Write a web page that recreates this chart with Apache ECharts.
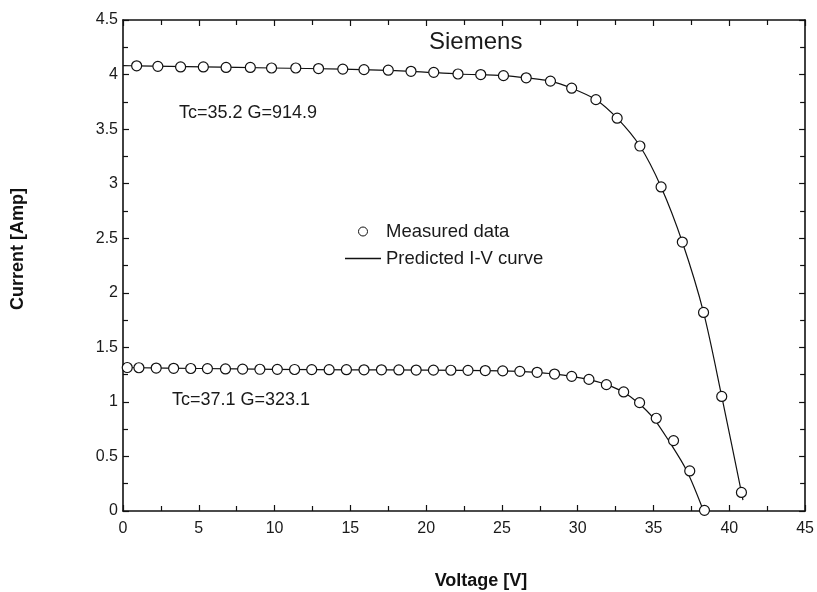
<!DOCTYPE html>
<html lang="en">
<head>
  <meta charset="UTF-8">
  <title>Siemens I-V</title>
  <script src="https://cdn.jsdelivr.net/npm/echarts@6/dist/echarts.min.js"></script>
</head>
<body style="margin:0">
  <div id="chart" style="width: 817px;height: 592px;"></div>
  <script>
    const FONT = '"Liberation Sans", Arial, sans-serif'

    // upper curve: Tc=35.2 G=914.9
    const vMeasHigh = [0.9, 2.3, 3.8, 5.3, 6.8, 8.4, 9.8, 11.4, 12.9, 14.5, 15.9, 17.5, 19.0, 20.5, 22.1, 23.6, 25.1, 26.6, 28.2, 29.6, 31.2, 32.6, 34.1, 35.5, 36.9, 38.3, 39.5, 40.8]
    const iMeasHigh = [4.08, 4.075, 4.07, 4.07, 4.065, 4.065, 4.06, 4.06, 4.055, 4.05, 4.045, 4.04, 4.03, 4.02, 4.005, 4.0, 3.99, 3.97, 3.94, 3.875, 3.77, 3.6, 3.345, 2.97, 2.465, 1.82, 1.05, 0.17]
    const vPredHigh = [0, 0.9, 5.3, 9.8, 14.5, 19.0, 22.1, 25.1, 26.6, 28.2, 29.6, 31.2, 32.6, 34.1, 35.5, 36.9, 38.3, 39.5, 40.8, 40.9]
    const iPredHigh = [4.082, 4.08, 4.07, 4.06, 4.05, 4.03, 4.005, 3.99, 3.97, 3.94, 3.875, 3.77, 3.6, 3.345, 2.97, 2.465, 1.82, 1.05, 0.17, 0.1]

    // lower curve: Tc=37.1 G=323.1
    const vMeasLow = [0.28, 1.05, 2.19, 3.34, 4.47, 5.57, 6.76, 7.89, 9.03, 10.18, 11.32, 12.45, 13.6, 14.74, 15.9, 17.05, 18.2, 19.34, 20.48, 21.63, 22.76, 23.9, 25.05, 26.18, 27.32, 28.47, 29.6, 30.74, 31.89, 33.03, 34.08, 35.18, 36.32, 37.39, 38.36]
    const iMeasLow = [1.315, 1.313, 1.31, 1.308, 1.306, 1.305, 1.302, 1.3, 1.299, 1.298, 1.297, 1.296, 1.295, 1.295, 1.294, 1.294, 1.293, 1.292, 1.291, 1.29, 1.289, 1.287, 1.284, 1.28, 1.271, 1.255, 1.234, 1.206, 1.158, 1.091, 0.993, 0.85, 0.645, 0.367, 0.006]
    const vPredLow = [0, 5, 10, 15, 20, 25, 27.3, 28.5, 29.6, 30.7, 31.9, 33.0, 34.0, 35.0, 36.0, 37.2, 38.3]
    const iPredLow = [1.315, 1.306, 1.298, 1.294, 1.291, 1.284, 1.271, 1.255, 1.234, 1.206, 1.158, 1.09, 0.99, 0.85, 0.645, 0.367, 0.0]

    const pair = (xs, ys) => xs.map((x, i) => [x, ys[i]])

    const tickStyle = { lineStyle: { color: '#111', width: 1.2 } }
    const baseAxis = {
      axisLine: { onZero: false, lineStyle: { color: '#111', width: 1.6 } },
      axisTick: { inside: true, length: 6, ...tickStyle },
      minorTick: { show: true, splitNumber: 2, length: 5, ...tickStyle },
      splitLine: { show: false },
      axisLabel: { color: '#1a1a1a', fontSize: 16, fontFamily: FONT }
    }

    const lineSeries = (name, data) => ({
      type: 'line', name, data, symbol: 'none', smooth: 0.3, z: 2,
      lineStyle: { color: '#111', width: 1.2 }, itemStyle: { color: '#111' }
    })
    const dotSeries = (name, data) => ({
      type: 'scatter', name, data, symbol: 'circle', symbolSize: 10, z: 3,
      itemStyle: { color: '#fff', borderColor: '#111', borderWidth: 1.2, opacity: 1 }
    })

    const legendText = { fontSize: 18.5, fontFamily: FONT, color: '#1a1a1a' }

    const chart = echarts.init(document.getElementById('chart'))
    chart.setOption({
      animation: false,
      grid: { left: 123, right: 10, top: 20, bottom: 81 },
      xAxis: [
        { ...baseAxis, type: 'value', min: 0, max: 45, interval: 5, position: 'bottom', axisLabel: { ...baseAxis.axisLabel, margin: 10 } },
        { ...baseAxis, type: 'value', min: 0, max: 45, interval: 5, position: 'top', axisLabel: { show: false } }
      ],
      yAxis: [
        { ...baseAxis, type: 'value', min: 0, max: 4.5, interval: 0.5, position: 'left', axisLabel: { ...baseAxis.axisLabel, margin: 5 } },
        { ...baseAxis, type: 'value', min: 0, max: 4.5, interval: 0.5, position: 'right', axisLabel: { show: false } }
      ],
      legend: [
        {
          data: [{ name: 'Measured data', icon: 'circle', itemStyle: { color: '#fff', borderColor: '#111', borderWidth: 1 } }],
          left: 358, top: 222, padding: 0, itemWidth: 36, itemHeight: 9, symbolKeepAspect: true,
          selectedMode: false, textStyle: legendText
        },
        {
          data: [{ name: 'Predicted I-V curve', icon: 'rect', itemStyle: { color: '#111', borderWidth: 0 } }],
          left: 345, top: 249, padding: 0, itemWidth: 36, itemHeight: 1.3, symbolKeepAspect: false,
          selectedMode: false, textStyle: legendText
        }
      ],
      graphic: [
        { type: 'text', left: 429, top: 30, style: { text: 'Siemens', font: '24px ' + FONT, fill: '#1a1a1a' } },
        { type: 'text', left: 179, top: 104, style: { text: 'Tc=35.2 G=914.9', font: '18px ' + FONT, fill: '#1a1a1a' } },
        { type: 'text', left: 172, top: 391, style: { text: 'Tc=37.1 G=323.1', font: '18px ' + FONT, fill: '#1a1a1a' } },
        { type: 'text', x: 481, y: 581, style: { text: 'Voltage [V]', font: 'bold 18px ' + FONT, fill: '#111', align: 'center', verticalAlign: 'middle' } },
        { type: 'text', x: 18, y: 249, rotation: Math.PI / 2, style: { text: 'Current [Amp]', font: 'bold 18px ' + FONT, fill: '#111', align: 'center', verticalAlign: 'middle' } }
      ],
      series: [
        lineSeries('Predicted I-V curve', pair(vPredHigh, iPredHigh)),
        lineSeries('Predicted I-V curve', pair(vPredLow, iPredLow)),
        dotSeries('Measured data', pair(vMeasHigh, iMeasHigh)),
        dotSeries('Measured data', pair(vMeasLow, iMeasLow))
      ]
    })
  </script>
</body>
</html>
